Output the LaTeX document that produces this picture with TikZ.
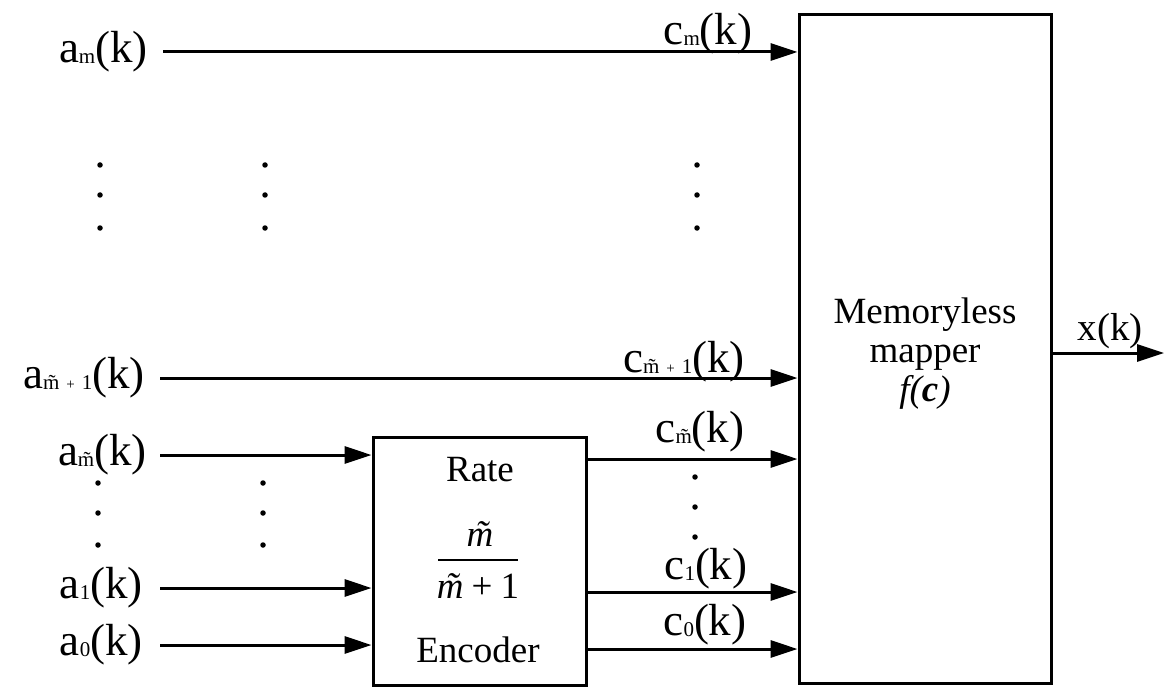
\documentclass[tikz,border=0pt]{standalone}
\usepackage{fontspec}
\setmainfont{Liberation Serif}
\usetikzlibrary{arrows.meta}
\tikzset{
 sig/.style={line width=3pt, -{Triangle[length=27pt,width=17pt]}},
 blk/.style={draw, line width=3pt, inner sep=0pt},
 lbl/.style={font=\fontsize{45}{48}\selectfont, inner sep=0pt},
 dot/.style={circle, fill, inner sep=0pt, minimum size=5.5pt},
 txt/.style={font=\fontsize{37}{39}\selectfont, inner sep=0pt}
}
\newcommand{\sg}[2]{#1{\fontsize{21}{21}\selectfont\raisebox{-1pt}{#2}}(k)}
\newcommand{\mt}{\ooalign{m\cr\hidewidth\kern0.08em\char"02DC\hidewidth\cr}}
\newcommand{\mtp}{\mt\hspace{7pt}{\fontsize{15}{15}\selectfont +}\hspace{7pt}1}
\begin{document}
\begin{tikzpicture}[x=1pt,y=-1pt]
\useasboundingbox (0,0) rectangle (1164,687);
% blocks
\node[blk, minimum width=252pt, minimum height=668pt] (map) at (925,349) {};
\node[txt, align=center] (maplbl) at (925,354) {Memoryless\\mapper\\\textit{f(\textbf{c})}};
\node[blk, minimum width=213pt, minimum height=248pt] (enc) at (479.5,561) {};
\node[txt] (rate) at (480,470) {Rate};
\node[txt] (num) at (480,538) {\textit{\mt}};
\node[txt] (den) at (478,586) {\textit{\mt}\hspace{8pt}+\hspace{8pt}1};
\node[txt] (encl) at (478,650) {Encoder};
\draw[line width=2.2pt] (438,560) -- (518,560);
% input labels
\node[lbl, anchor=east] (am) at (148,52) {\sg{a}{m}};
\node[lbl, anchor=east] (amp) at (145,378) {\sg{a}{\mtp}};
\node[lbl, anchor=east] (amt) at (147,455) {\sg{a}{\mt}};
\node[lbl, anchor=east] (a1) at (143,588) {\sg{a}{1}};
\node[lbl, anchor=east] (a0) at (143,645) {\sg{a}{0}};
% input arrows
\draw[sig] ([xshift=15pt]am.east) -- (am.east -| map.west);
\draw[sig] ([xshift=15pt]amp.east) -- (amp.east -| map.west);
\draw[sig] ([xshift=13pt]amt.east) -- (amt.east -| enc.west);
\draw[sig] ([xshift=17pt]a1.east) -- (a1.east -| enc.west);
\draw[sig] ([xshift=17pt]a0.east) -- (a0.east -| enc.west);
% encoder outputs
\coordinate (o2) at (0,459);
\coordinate (o1) at (0,592);
\coordinate (o0) at (0,649);
\draw[sig] (enc.east |- o2) -- (map.west |- o2);
\draw[sig] (enc.east |- o1) -- (map.west |- o1);
\draw[sig] (enc.east |- o0) -- (map.west |- o0);
% output labels
\node[lbl] (cm) at (708,34) {\sg{c}{m}};
\node[lbl] (cmp) at (684,362) {\sg{c}{\mtp}};
\node[lbl] (cmt) at (700,432) {\sg{c}{\mt}};
\node[lbl] (c1) at (706,569) {\sg{c}{1}};
\node[lbl] (c0) at (705,625) {\sg{c}{0}};
% output
\coordinate (xo) at (1164,353);
\draw[sig] (map.east |- xo) -- (xo);
\node[lbl, font=\fontsize{39}{42}\selectfont] (xk) at (1110,331) {x(k)};
% dots
\foreach \x/\n in {100/p,265/q,697/r}{
  \foreach \y/\m in {165/1,195/2,228/3}{
    \node[dot] (d\n\m) at (\x,\y) {};
  }
}
\foreach \x/\n in {98/s,263/t}{
  \foreach \y/\m in {483/1,513/2,545/3}{
    \node[dot] (d\n\m) at (\x,\y) {};
  }
}
\foreach \y/\m in {477/1,507/2,537/3}{
  \node[dot] (du\m) at (695,\y) {};
}
\end{tikzpicture}
\end{document}
